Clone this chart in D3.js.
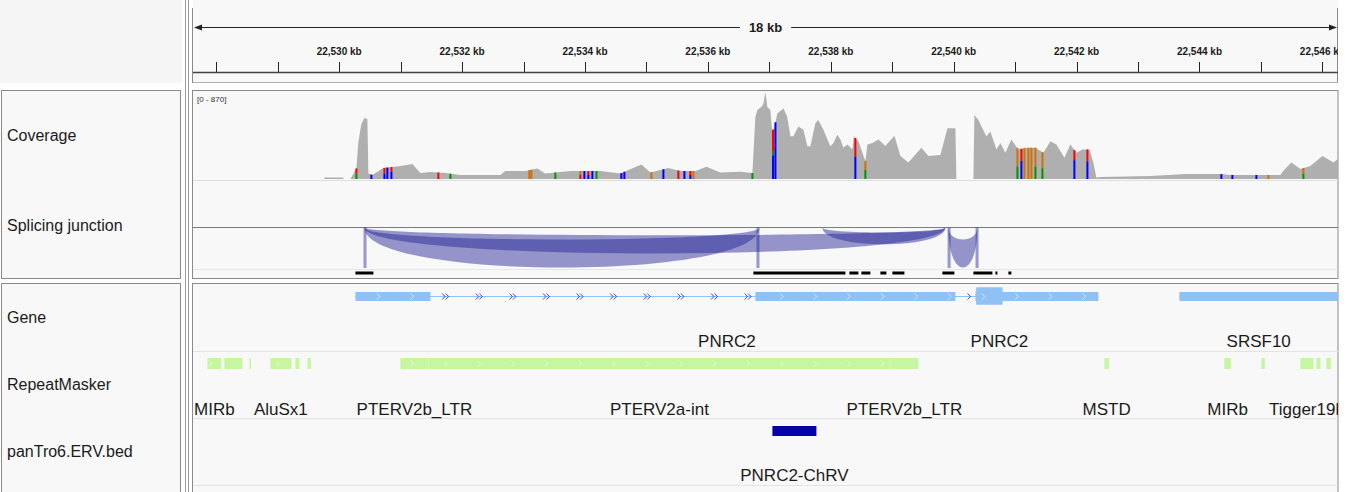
<!DOCTYPE html>
<html>
<head>
<meta charset="utf-8">
<script src="https://cdn.jsdelivr.net/npm/d3@7"></script>
<style>
  html, body { margin: 0; padding: 0; background: #ffffff; }
  svg { display: block; font-family: "Liberation Sans", Arial, Helvetica, sans-serif; }
</style>
</head>
<body>
<svg id="chart" width="1352" height="492"></svg>
<script>
// ---- Locus -------------------------------------------------------------
const regionStart = 22527621;
const regionEnd = 22546254;
const rulerSpanLabel = "18 kb";
const rulerTicksKb = d3.range(22528, 22547);          // minor + major ticks every kb
const rulerLabelsKb = [22530, 22532, 22534, 22536, 22538, 22540, 22542, 22544, 22546];

// ---- Track names -------------------------------------------------------
const trackNames = ["Coverage", "Splicing junction", "Gene", "RepeatMasker", "panTro6.ERV.bed"];

// ---- Coverage (position bp, read depth) ----------------------------------
const coverageRange = [0, 870];
const coverage = [
  [22527621, 0], [22529758, 0], [22529759, 16], [22530068, 16], [22530069, 0],
  [22530182, 0], [22530280, 106], [22530312, 370], [22530361, 550], [22530410, 610],
  [22530459, 600], [22530475, 56], [22530540, 40], [22530719, 110], [22530996, 130],
  [22531191, 150], [22531321, 60], [22531484, 70], [22531728, 60], [22531972, 40],
  [22532623, 40], [22532705, 80], [22533030, 80], [22533225, 105], [22533356, 55],
  [22533762, 80], [22534088, 80], [22534251, 80], [22534576, 55], [22534918, 145],
  [22535064, 65], [22535357, 110], [22535553, 80], [22535797, 80], [22535976, 122],
  [22536203, 65], [22536529, 72], [22536724, 60],
  [22536773, 623], [22536806, 690], [22536871, 722], [22536903, 750], [22536936, 870],
  [22536968, 720], [22537017, 690], [22537045, 476], [22537082, 520], [22537131, 656],
  [22537229, 705], [22537289, 624], [22537343, 427], [22537391, 427], [22537473, 525],
  [22537554, 492], [22537619, 328], [22537668, 328], [22537749, 558], [22537798, 591],
  [22537880, 492], [22537945, 394], [22537994, 328], [22538042, 361], [22538107, 443],
  [22538156, 394], [22538205, 312], [22538270, 345], [22538351, 295], [22538376, 427],
  [22538400, 410], [22538449, 377], [22538514, 262], [22538563, 180], [22538596, 344],
  [22538677, 360], [22538775, 395], [22538888, 330], [22539035, 433], [22539133, 230],
  [22539263, 164], [22539474, 312], [22539588, 230], [22539784, 240], [22539898, 508],
  [22540028, 508], [22540044, 0], [22540321, 0], [22540337, 640], [22540402, 590],
  [22540532, 426], [22540597, 475], [22540695, 295], [22540760, 360], [22540841, 262],
  [22540939, 394], [22541053, 295], [22541167, 312], [22541330, 312], [22541460, 262],
  [22541574, 377], [22541671, 344], [22541802, 213], [22541899, 344], [22541997, 262],
  [22542094, 295], [22542208, 295], [22542273, 164], [22542322, 16], [22542387, 20],
  [22543201, 30], [22543771, 50], [22544340, 50], [22544503, 40], [22545317, 40],
  [22545365, 82], [22545496, 164], [22545642, 100], [22545805, 130], [22546000, 230],
  [22546179, 164], [22546254, 200]
];

// ---- Mismatched bases (position, [base, fraction] from top) ---------------
const alleleMarks = [
  [22530280, [["T", 0.5], ["A", 0.5]]], [22530524, [["C", 1]]], [22530736, [["T", 0.5], ["C", 0.5]]],
  [22530784, [["C", 1]]], [22530850, [["T", 0.4], ["C", 0.6]]], [22531614, [["T", 1]]],
  [22531810, [["A", 1]]], [22533095, [["G", 1]]], [22533128, [["G", 1]]], [22533518, [["A", 1]]],
  [22533925, [["G", 0.5], ["T", 0.5]]], [22533990, [["C", 1]]], [22534055, [["T", 0.5], ["C", 0.5]]],
  [22534120, [["C", 1]]], [22534186, [["A", 1]]], [22534592, [["C", 1]]], [22534641, [["C", 1]]],
  [22535081, [["G", 1]]], [22535276, [["C", 1]]], [22535520, [["T", 1]]], [22535618, [["C", 1]]],
  [22535715, [["T", 0.5], ["C", 0.5]]], [22535764, [["G", 1]]], [22536724, [["A", 1]]],
  [22537060, [["T", 0.45], ["A", 0.07], ["C", 0.48]]], [22537099, [["C", 1]]],
  [22538400, [["T", 0.45], ["C", 0.55]]], [22538563, [["G", 0.5], ["A", 0.5]]],
  [22541037, [["G", 0.6], ["A", 0.4]]], [22541102, [["T", 0.4], ["C", 0.6]]], [22541151, [["G", 1]]],
  [22541216, [["G", 1]]], [22541265, [["G", 1]]], [22541330, [["G", 0.6], ["A", 0.4]]],
  [22541444, [["G", 0.6], ["A", 0.4]]], [22541964, [["T", 0.35], ["C", 0.65]]],
  [22542176, [["T", 0.4], ["C", 0.6]]], [22544356, [["C", 1]]], [22544535, [["C", 1]]],
  [22544926, [["C", 1]]], [22545121, [["G", 1]]], [22545691, [["G", 0.5], ["A", 0.5]]]
];
const baseColors = { A: "rgb(0,150,0)", C: "rgb(0,0,255)", G: "rgb(209,113,5)", T: "rgb(255,0,0)" };

// ---- Splice junctions (minus-strand arcs, read depth) ---------------------
const junctions = [
  { start: 22530410, end: 22536838, depth: 100 },
  { start: 22530410, end: 22539865, depth: 65 },
  { start: 22537863, end: 22539865, depth: 42 },
  { start: 22539914, end: 22540386, depth: 100 }
];
const junctionAnchors = [22530420, 22536815, 22539925, 22540380];
const junctionBlocks = [
  [22530264, 22530557], [22536740, 22538238], [22538303, 22538449], [22538498, 22538644],
  [22538807, 22538905], [22539002, 22539198], [22539816, 22540011], [22540321, 22540630],
  [22540679, 22540711], [22540890, 22540939]
];

// ---- Gene annotations ---------------------------------------------------
const genes = [
  { name: "PNRC2", strand: "+", start: 22530264, end: 22542354,
    exons: [[22530264, 22531484], [22536773, 22540028], [22540353, 22542354]],
    cds: [[22540369, 22540792]] },
  { name: "PNRC2", strand: "+", start: 22540369, end: 22541118,
    exons: [[22540369, 22541118]], cds: [[22540369, 22540792]] },
  { name: "SRSF10", strand: "", start: 22543673, end: 22560000,
    exons: [[22543673, 22560000]], cds: [] }
];

// ---- RepeatMasker elements (start, end, name) ---------------------------
const repeats = [
  [22527855, 22528083, "MIRb"], [22528132, 22528425, ""], [22528539, 22528563, ""],
  [22528880, 22529222, "AluSx1"], [22529287, 22529352, ""], [22529483, 22529540, ""],
  [22530996, 22531452, "PTERV2b_LTR"], [22531452, 22538970, "PTERV2a-int"],
  [22538970, 22539426, "PTERV2b_LTR"], [22542453, 22542526, "MSTD"],
  [22544405, 22544511, "MIRb"], [22545007, 22545064, ""], [22545642, 22545854, "Tigger19b"],
  [22545902, 22545968, ""], [22546065, 22546138, ""]
];

// ---- ERV bed ------------------------------------------------------------
const ervs = [[22537050, 22537766, "PNRC2-ChRV"]];

// ========================================================================
const svg = d3.select("#chart");
const W = 1352, H = 492;
const dataLeft = 193, dataRight = 1338;
const x = d3.scaleLinear().domain([regionStart, regionEnd]).range([dataLeft, dataRight]);

const panelFill = "#f8f8f8";
const borderColor = "#8a8a8a";
const textColor = "#1b1b1b";

svg.append("rect").attr("width", W).attr("height", H).attr("fill", "#ffffff");

svg.append("defs").append("clipPath").attr("id", "dataClip")
  .append("rect").attr("x", dataLeft).attr("y", 0).attr("width", dataRight - dataLeft).attr("height", H);

// ---- Name panel ----------------------------------------------------------
svg.append("rect").attr("x", 0).attr("y", 0).attr("width", 182).attr("height", 83).attr("fill", "#f5f5f5");
svg.append("rect").attr("x", 1.5).attr("y", 90.5).attr("width", 179).attr("height", 188)
  .attr("fill", panelFill).attr("stroke", borderColor);
svg.append("rect").attr("x", 1.5).attr("y", 283.5).attr("width", 179).attr("height", 215)
  .attr("fill", panelFill).attr("stroke", borderColor);

const nameY = [135, 225, 317, 384, 451];
svg.append("g").selectAll("text").data(trackNames).join("text")
  .attr("x", 7).attr("y", (d, i) => nameY[i]).attr("dy", "0.35em")
  .attr("font-size", 16).attr("fill", textColor).text(d => d);

// divider lines between name and data panels
[185.5, 188.5].forEach(lx => {
  svg.append("line").attr("x1", lx).attr("x2", lx).attr("y1", 0).attr("y2", H)
    .attr("stroke", "#9a9a9a").attr("stroke-width", 1);
});

// ---- Data panels -----------------------------------------------------------
svg.append("rect").attr("x", dataLeft).attr("y", 0).attr("width", dataRight - dataLeft).attr("height", 83)
  .attr("fill", panelFill);
svg.append("rect").attr("x", dataLeft - 0.5).attr("y", 90.5).attr("width", dataRight - dataLeft + 0.5).attr("height", 188)
  .attr("fill", panelFill).attr("stroke", borderColor);
svg.append("rect").attr("x", dataLeft - 0.5).attr("y", 283.5).attr("width", dataRight - dataLeft + 0.5).attr("height", 215)
  .attr("fill", panelFill).attr("stroke", borderColor);

// ---- Ruler -----------------------------------------------------------------
const ruler = svg.append("g");
ruler.append("line").attr("x1", dataLeft - 0.5).attr("x2", dataLeft - 0.5).attr("y1", 8).attr("y2", 83)
  .attr("stroke", borderColor);
ruler.append("line").attr("x1", dataRight - 0.5).attr("x2", dataRight - 0.5).attr("y1", 8).attr("y2", 83)
  .attr("stroke", borderColor);
ruler.append("line").attr("x1", dataLeft).attr("x2", dataRight).attr("y1", 82.5).attr("y2", 82.5)
  .attr("stroke", "#b0b0b0");

const spanMid = (dataLeft + dataRight) / 2;
const spanText = ruler.append("text").attr("x", spanMid).attr("y", 27).attr("dy", "0.35em")
  .attr("text-anchor", "middle").attr("font-size", 13).attr("font-weight", "bold")
  .attr("fill", textColor).text(rulerSpanLabel);
const spanHalf = spanText.node().getComputedTextLength() / 2 + 9;
ruler.append("line").attr("x1", dataLeft + 2).attr("x2", spanMid - spanHalf).attr("y1", 27.5).attr("y2", 27.5)
  .attr("stroke", "#222").attr("stroke-width", 1);
ruler.append("line").attr("x1", spanMid + spanHalf).attr("x2", dataRight - 2).attr("y1", 27.5).attr("y2", 27.5)
  .attr("stroke", "#222").attr("stroke-width", 1);
ruler.append("path").attr("d", `M${dataLeft + 1},27.5 L${dataLeft + 9},24.5 L${dataLeft + 9},30.5 Z`).attr("fill", "#222");
ruler.append("path").attr("d", `M${dataRight - 1},27.5 L${dataRight - 9},24.5 L${dataRight - 9},30.5 Z`).attr("fill", "#222");

const rulerG = ruler.append("g").attr("clip-path", "url(#dataClip)");
rulerG.selectAll("line.tick").data(rulerTicksKb).join("line").attr("class", "tick")
  .attr("x1", d => Math.round(x(d * 1000)) + 0.5).attr("x2", d => Math.round(x(d * 1000)) + 0.5)
  .attr("y1", 62).attr("y2", 72).attr("stroke", "#222");
rulerG.selectAll("text").data(rulerLabelsKb).join("text")
  .attr("x", d => x(d * 1000)).attr("y", 51.5).attr("dy", "0.35em").attr("text-anchor", "middle")
  .attr("font-size", 10).attr("font-weight", "bold").attr("fill", textColor)
  .text(d => d3.format(",")(d) + " kb");
rulerG.append("line").attr("x1", dataLeft).attr("x2", dataRight).attr("y1", 72.5).attr("y2", 72.5)
  .attr("stroke", "#444").attr("stroke-width", 1.5);

// ---- Coverage track -------------------------------------------------------
const yCov = d3.scaleLinear().domain(coverageRange).range([179, 92]);
const covG = svg.append("g").attr("clip-path", "url(#dataClip)");
covG.append("path").datum(coverage)
  .attr("d", d3.area().x(d => x(d[0])).y0(yCov(0)).y1(d => yCov(d[1])))
  .attr("fill", "#afafaf");

const covBisect = d3.bisector(d => d[0]).left;
function depthAt(pos) {
  const i = Math.max(1, Math.min(coverage.length - 1, covBisect(coverage, pos)));
  const a = coverage[i - 1], b = coverage[i];
  const t = (pos - a[0]) / (b[0] - a[0]);
  return a[1] + (b[1] - a[1]) * Math.max(0, Math.min(1, t));
}
alleleMarks.forEach(([pos, mix]) => {
  const total = depthAt(pos);
  let top = yCov(total);
  const px = x(pos);
  mix.forEach(([base, frac]) => {
    const h = (yCov(0) - yCov(total)) * frac;
    covG.append("rect").attr("x", px - 1).attr("y", top).attr("width", 2).attr("height", h)
      .attr("fill", baseColors[base]);
    top += h;
  });
});
covG.append("text").attr("x", dataLeft + 4).attr("y", 99).attr("dy", "0.35em")
  .attr("font-size", 8).attr("fill", "#333").text(`[${coverageRange[0]} - ${coverageRange[1]}]`);
covG.append("line").attr("x1", dataLeft).attr("x2", dataRight).attr("y1", 180.5).attr("y2", 180.5)
  .attr("stroke", "#dedede");

// ---- Splice junction track ----------------------------------------------
const juncBase = 227.5;
const juncG = svg.append("g").attr("clip-path", "url(#dataClip)");
juncG.append("line").attr("x1", dataLeft).attr("x2", dataRight).attr("y1", juncBase).attr("y2", juncBase)
  .attr("stroke", "#7c7c7c");
juncG.append("line").attr("x1", dataLeft).attr("x2", dataRight).attr("y1", 269.5).attr("y2", 269.5)
  .attr("stroke", "#e6e6e6");
const outerScale = d3.scaleLinear().domain([0, 100]).range([0, 40]);
const innerScale = d3.scaleLinear().domain([0, 100]).range([0, 12]);
const juncFill = "rgb(36,36,150)";
juncG.selectAll("path.junction").data(junctions).join("path").attr("class", "junction")
  .attr("d", j => {
    const x1 = x(j.start), x2 = x(j.end);
    const co = outerScale(j.depth) / 0.75, ci = innerScale(j.depth) / 0.75;
    return `M${x1},${juncBase} C${x1},${juncBase + co} ${x2},${juncBase + co} ${x2},${juncBase}` +
           ` C${x2},${juncBase + ci} ${x1},${juncBase + ci} ${x1},${juncBase} Z`;
  })
  .attr("fill", juncFill).attr("fill-opacity", 0.47);
juncG.selectAll("rect.anchor").data(junctionAnchors).join("rect").attr("class", "anchor")
  .attr("x", d => x(d) - 1.5).attr("y", juncBase).attr("width", 3).attr("height", 268 - juncBase)
  .attr("fill", juncFill).attr("fill-opacity", 0.45);
juncG.selectAll("rect.block").data(junctionBlocks).join("rect").attr("class", "block")
  .attr("x", d => x(d[0])).attr("y", 271.5).attr("width", d => Math.max(2, x(d[1]) - x(d[0])))
  .attr("height", 3).attr("fill", "#000");

// ---- Feature tracks -------------------------------------------------------
const featG = svg.append("g").attr("clip-path", "url(#dataClip)");
[351.5, 418.5, 485.5].forEach(ly => {
  featG.append("line").attr("x1", dataLeft).attr("x2", dataRight).attr("y1", ly).attr("y2", ly)
    .attr("stroke", "#e4e4e4");
});

const chevronStep = 33.6, chevronPhase = 17.8;
const chevronGrid = d3.range(dataLeft + chevronPhase, dataRight, chevronStep);
function chevron(g, cx, cy, color, doubled) {
  const offs = doubled ? [-2, 1.5] : [0];
  offs.forEach(o => {
    g.append("path").attr("d", `M${cx + o - 1.8},${cy - 3} L${cx + o + 1.2},${cy} L${cx + o - 1.8},${cy + 3}`)
      .attr("fill", "none").attr("stroke", color).attr("stroke-width", 1);
  });
}
const visibleMid = (a, b) => (Math.max(dataLeft, a) + Math.min(dataRight, b)) / 2;

// genes
const geneColor = "#90c1f5";
const geneY = 296.5;
const labelFont = 17;
genes.forEach(g => {
  const gx1 = x(g.start), gx2 = x(g.end);
  featG.append("line").attr("x1", gx1).attr("x2", gx2).attr("y1", geneY).attr("y2", geneY)
    .attr("stroke", geneColor).attr("stroke-width", 1);
  g.exons.forEach(([s, e]) => {
    featG.append("rect").attr("x", x(s)).attr("y", geneY - 4.5).attr("width", x(e) - x(s)).attr("height", 9)
      .attr("fill", geneColor);
  });
  g.cds.forEach(([s, e]) => {
    featG.append("rect").attr("x", x(s)).attr("y", geneY - 9).attr("width", x(e) - x(s)).attr("height", 17)
      .attr("fill", geneColor);
  });
  if (g.strand === "+") {
    const inExon = px => g.exons.some(([s, e]) => px > x(s) + 3 && px < x(e) - 3);
    const introns = d3.pairs(g.exons).map(([a, b]) => [x(a[1]), x(b[0])]);
    chevronGrid.forEach(px => {
      if (inExon(px)) chevron(featG, px, geneY, "#d6e8fc", false);
      else if (introns.some(([a, b]) => px > a + 4 && px < b - 4)) chevron(featG, px, geneY, "#4444b8", true);
    });
    introns.forEach(([a, b]) => {
      if (b - a > 12 && !chevronGrid.some(px => px > a + 4 && px < b - 4)) chevron(featG, (a + b) / 2 + 4, geneY, "#4444b8", false);
    });
  }
  featG.append("text").attr("x", visibleMid(gx1, gx2)).attr("y", 341).attr("dy", "0.35em")
    .attr("text-anchor", "middle").attr("font-size", labelFont).attr("fill", textColor).text(g.name);
});

// repeats
const repeatColor = "#c7f6a1";
const repeatY = 363.5;
repeats.forEach(([s, e, name]) => {
  const rx1 = x(s), rx2 = x(e);
  featG.append("rect").attr("x", rx1).attr("y", repeatY - 5.5).attr("width", Math.max(1.5, rx2 - rx1)).attr("height", 11)
    .attr("fill", repeatColor);
  if (rx2 - rx1 > 10) {
    chevronGrid.filter(px => px > rx1 + 3 && px < rx2 - 3)
      .forEach(px => chevron(featG, px, repeatY, "#e6fbd5", false));
  }
  if (name) {
    featG.append("text").attr("x", visibleMid(rx1, rx2)).attr("y", 409).attr("dy", "0.35em")
      .attr("text-anchor", "middle").attr("font-size", labelFont).attr("fill", textColor).text(name);
  }
});

// ERV bed
const ervY = 431;
ervs.forEach(([s, e, name]) => {
  featG.append("rect").attr("x", x(s)).attr("y", ervY - 5).attr("width", x(e) - x(s)).attr("height", 10)
    .attr("fill", "#0303a8");
  featG.append("text").attr("x", (x(s) + x(e)) / 2).attr("y", 475).attr("dy", "0.35em")
    .attr("text-anchor", "middle").attr("font-size", labelFont).attr("fill", textColor).text(name);
});
</script>
</body>
</html>
